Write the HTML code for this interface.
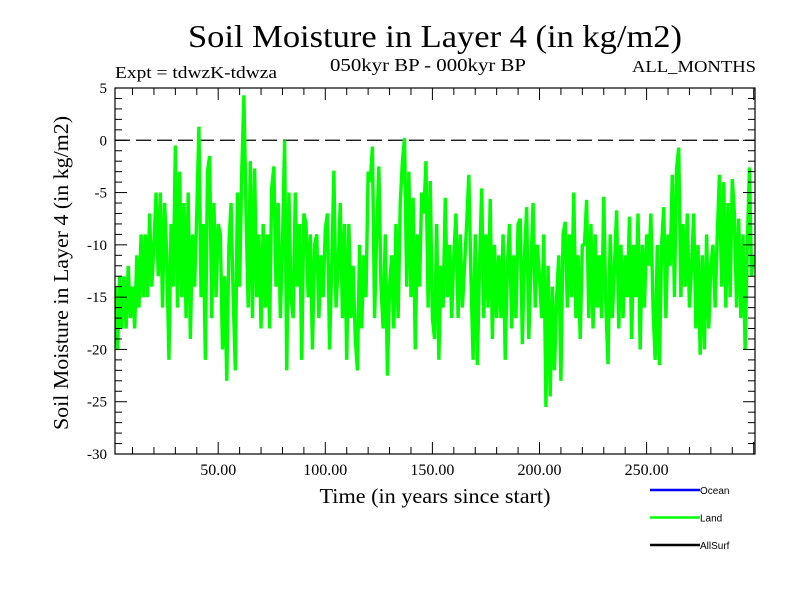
<!DOCTYPE html>
<html><head><meta charset="utf-8"><style>
body{margin:0;background:#fff;}
svg text{font-family:"Liberation Serif",serif;fill:#000;}
</style></head><body>
<svg id="chart" width="800" height="600" viewBox="0 0 800 600" xmlns="http://www.w3.org/2000/svg">
<rect width="800" height="600" fill="#fff"/>
<text x="435" y="47" font-size="32" text-anchor="middle" textLength="494" lengthAdjust="spacingAndGlyphs">Soil Moisture in Layer 4 (in kg/m2)</text>
<text x="428" y="71" font-size="18" text-anchor="middle" textLength="196" lengthAdjust="spacingAndGlyphs">050kyr BP - 000kyr BP</text>
<text x="115" y="78" font-size="17" textLength="162" lengthAdjust="spacingAndGlyphs">Expt = tdwzK-tdwza</text>
<text x="756" y="72" font-size="17" text-anchor="end" textLength="124" lengthAdjust="spacingAndGlyphs">ALL_MONTHS</text>
<text transform="translate(68,273) rotate(-90)" font-size="21" text-anchor="middle" textLength="314" lengthAdjust="spacingAndGlyphs">Soil Moisture in Layer 4 (in kg/m2)</text>
<text x="435" y="503" font-size="21" text-anchor="middle" textLength="231" lengthAdjust="spacingAndGlyphs">Time (in years since start)</text>
<defs><clipPath id="plotclip"><rect x="115" y="88" width="640" height="366"/></clipPath></defs>
<g id="grid"></g>
<g id="series" clip-path="url(#plotclip)"></g>
<g id="axes"></g>
<g id="legend"></g>
</svg>
<script>
const yTicks = [5, 0, -5, -10, -15, -20, -25, -30];
const xTicks = [50, 100, 150, 200, 250];
const xTickLabels = ["50.00", "100.00", "150.00", "200.00", "250.00"];
const legendNames = ["Ocean", "Land", "AllSurf"];
const legendColors = ["#0000ff", "#00ff00", "#000000"];
const startYear = 1;
const landValues = [
-22,-14,-20,-13,-18, -13,-18,-12,-17,-14, -18,-11,-16,-9,-15, -9,-15,-7,-14,-10,
-5,-13,-5,-16,-6, -11,-21,-8,-14,-0.5, -16,-3,-15,-6,-17, -5,-19,-9,-14,-7,
1.3,-15,-8,-21,-3, -1.5,-17,-6,-15,-8, -9,-20,-13,-23,-10, -6,-15,-22,-5,-14,
-3,4.3,-7,-16,-2, -17,-2.7,-15,-9,-18, -8,-16,-9,-18,-4.5, -2.5,-14,-6,-17,-10,
0,-22,-5,-15,-17, -5,-14,-8,-21,-7, -8,-15,-9,-20,-10, -9,-17,-11,-15,-8.5,
-7,-20,-12,-2.9,-16, -12,-6,-17,-8,-21, -8,-17,-12,-19,-22, -10,-18,-11,-15,-3,
-4,-0.6,-17,-9,-2.5, -14,-18,-9,-22.5,-14, -11,-18,-8,-17,-6, -2,0.2,-14,-3,-15,
-5.5,-20,-9,-14,-5, -7,-2,-16,-3.9,-17, -19,-8,-21,-12,-16, -5.5,-15,-10,-17,-11,
-7,-17,-9,-16,-12, -8,-3.3,-13,-21,-9, -21.5,-12,-4.6,-17,-9, -16,-5.6,-19,-10,-17,
-11,-17,-9,-21,-12, -8,-18,-11,-17,-8, -7.5,-19.5,-11,-6.4,-19, -12,-6,-16,-10,-13,
-17,-9,-25.5,-12,-24.5, -14,-22,-15,-11,-23, -9,-7.8,-16,-9,-15, -5,-17,-11,-19,-10,
-10,-5.7,-17,-8,-18, -9,-16,-11,-17,-5.4, -16,-21.4,-9,-17,-12, -6.7,-18,-10,-17,-11,
-15,-7.3,-19,-10,-15, -7,-20,-10,-16,-9, -12,-7,-16,-21,-10, -21.5,-10,-6.4,-17,-9,
-12,-3.3,-15,-2.7,-0.7, -15,-8,-14,-7,-16, -12,-7,-18,-10,-20.5, -11,-20,-9,-18,-12,
-10,-16,-9,-3.3,-14, -4,-16,-6,-15,-3.7, -7,-16,-7.5,-17,-9, -20,-10,-2.6,-13,-11
];
const NS="http://www.w3.org/2000/svg";
const L=115,R=755,T=88,B=454;
const yMin=-30,yMax=5;
const x0Px=111.1, pxPerYear=2.142;
function xs(t){return x0Px+t*pxPerYear;}
function ys(v){return B-(v-yMin)/(yMax-yMin)*(B-T);}
function mk(tag,attrs,parent){const e=document.createElementNS(NS,tag);for(const k in attrs)e.setAttribute(k,attrs[k]);parent.appendChild(e);return e;}
const axes=document.getElementById('axes');
const grid=document.getElementById('grid');
const series=document.getElementById('series');
const legend=document.getElementById('legend');
const zl=mk('line',{x1:L,x2:R,y1:ys(0),y2:ys(0),stroke:'#000','stroke-width':1.3,'stroke-dasharray':'15,6'},grid);


let pts=landValues.map((v,i)=>xs(startYear+i).toFixed(2)+','+ys(v).toFixed(2)).join(' ');
const pl=mk('polyline',{points:pts,fill:'none',stroke:'#00ff00','stroke-width':3.4,'stroke-linejoin':'bevel'},series);


const fr=mk('rect',{x:L,y:T,width:R-L,height:B-T,fill:'none',stroke:'#000','stroke-width':1.2},axes);


for(let v=yMin;v<=yMax;v++){
  const major=(v%5===0);const len=major?12:7;const y=ys(v);
  mk('line',{x1:L,x2:L+len,y1:y,y2:y,stroke:'#000','stroke-width':1},axes);
  mk('line',{x1:R,x2:R-len,y1:y,y2:y,stroke:'#000','stroke-width':1},axes);
}
yTicks.forEach(v=>{
  const t=mk('text',{x:L-8,y:ys(v)+5,'font-size':15,'text-anchor':'end'},axes);
  t.textContent=String(v);
  
  
});
for(let t=10;t<=300;t+=10){
  const x=xs(t);if(x<L||x>R)continue;const major=(t%50===0);const len=major?12:7;
  mk('line',{x1:x,x2:x,y1:B,y2:B-len,stroke:'#000','stroke-width':1},axes);
  mk('line',{x1:x,x2:x,y1:T,y2:T+len,stroke:'#000','stroke-width':1},axes);
}
xTicks.forEach((v,i)=>{
  const t=mk('text',{x:xs(v),y:B+21,'font-size':16,'text-anchor':'middle'},axes);
  t.textContent=xTickLabels[i];
  
  
});
legendNames.forEach((n,i)=>{
  const y=490+i*27.5;
  const ln=mk('line',{x1:650,x2:700,y1:y,y2:y,stroke:legendColors[i],'stroke-width':2.5},legend);
  
  
  const t=mk('text',{x:700,y:y+4,'font-size':10,style:'font-family:"Liberation Sans",sans-serif'},legend);
  t.textContent=n;
  
  
});
</script>
</body></html>
